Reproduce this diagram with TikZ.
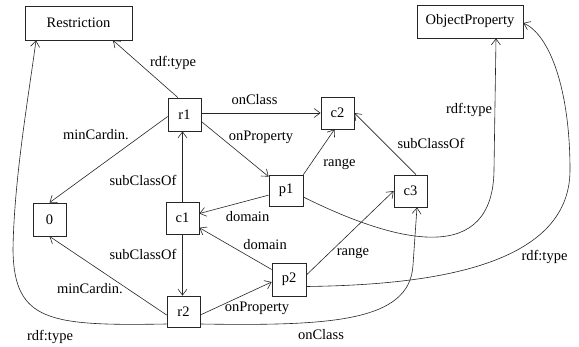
\documentclass[tikz,border=0pt]{standalone}
\usepackage{fontspec}
\setmainfont{Liberation Serif}
\usetikzlibrary{arrows.meta}
\begin{document}
\begin{tikzpicture}[x=1pt,y=-1pt,
  box/.style={draw=black!85, line width=0.7pt, minimum width=33pt, minimum height=32pt, inner sep=0pt, font=\fontsize{14.5}{16}\selectfont},
  lbl/.style={inner sep=0pt, font=\fontsize{14.5}{16}\selectfont},
  conn/.style={draw=black!85, line width=0.6pt, -{Straight Barb[length=6pt,width=9pt]}}]
\useasboundingbox (0,0) rectangle (579,346);
\fill[white] (0,0) rectangle (579,346);
% boxes
\node[box, minimum width=107pt, minimum height=34pt] (restr) at (78.5,23) {Restriction};
\node[box, minimum width=106pt, minimum height=33pt] (objprop) at (470,21.5) {ObjectProperty};
\node[box, minimum height=33pt] (r1) at (184.5,114.5) {r1};
\node[box] (c2) at (337.5,113) {c2};
\node[box] (c3) at (410.5,191) {c3};
\node[box, minimum width=34pt, minimum height=31pt] (p1) at (286,190.5) {p1};
\node[box, minimum height=33pt] (zero) at (49.5,219.5) {0};
\node[box] (c1) at (182.5,218) {c1};
\node[box, minimum width=34pt, minimum height=33pt] (p2) at (289,279.5) {p2};
\node[box, minimum height=31pt] (r2) at (183.5,311.5) {r2};
% straight connectors
\draw[conn] ([xshift=-6.5pt]r1.north) -- ([xshift=34.5pt]restr.south);
\draw[conn] (r1.east |- c2.west) -- (c2.west);
\draw[conn] ([yshift=-7pt]r1.east) -- ([yshift=-2pt]p1.north west);
\draw[conn] ([yshift=-2pt]r1.west) -- (zero.north);
\draw[conn] (c1.north) -- (c1.north |- r1.south);
\draw[conn] (c1.south) -- (c1.south |- r2.north);
\draw[conn] (p1) -- (c1);
\draw[conn] (p2) -- (c1);
\draw[conn] (p1.north east) -- ([xshift=-3pt]c2.south);
\draw[conn] ([xshift=5.5pt]c3.north) -- (c2.east);
\draw[conn] ([yshift=4.5pt]p2.east) -- (c3.west);
\draw[conn] ([yshift=-3.5pt]r2.west) -- (zero.south);
\draw[conn] ([yshift=-3.5pt]r2.east) -- ([yshift=-2.5pt]p2.west);
% curved connectors
\draw[conn] ([yshift=-12.5pt]r2.west) .. controls (50,326) and (14,322) .. (13,250) .. controls (14,180) and (28,100) .. ([xshift=-42.5pt]restr.south);
\draw[conn] ([yshift=-12.5pt]r2.east) .. controls (330,326) and (410,322) .. (413,265) -- ([xshift=6.5pt]c3.south);
\draw[conn] ([yshift=-6.5pt]p1.east) .. controls (400,245) and (493,265) .. (494,170) -- ([xshift=26pt]objprop.south);
\draw[conn] ([yshift=-7pt]p2.east) .. controls (420,285) and (570,270) .. (570,170) .. controls (570,90) and (550,35) .. ([yshift=-1.5pt]objprop.east);
% labels
\node[lbl] (l1) at (173,63) {rdf:type};
\node[lbl] (l2) at (254.5,100) {onClass};
\node[lbl] (l3) at (261,137) {onProperty};
\node[lbl] (l4) at (96,135) {minCardin.};
\node[lbl] (l5) at (143,180) {subClassOf};
\node[lbl] (l6) at (143,254) {subClassOf};
\node[lbl] (l7) at (247.5,217) {domain};
\node[lbl] (l8) at (265,245) {domain};
\node[lbl] (l9) at (339.5,164) {range};
\node[lbl] (l10) at (431,143) {subClassOf};
\node[lbl] (l11) at (469,110) {rdf:type};
\node[lbl] (l12) at (353,253) {range};
\node[lbl] (l13) at (544.5,257) {rdf:type};
\node[lbl] (l14) at (90,289) {minCardin.};
\node[lbl] (l15) at (257,308) {onProperty};
\node[lbl] (l16) at (50,337) {rdf:type};
\node[lbl] (l17) at (321,335) {onClass};
\end{tikzpicture}
\end{document}
